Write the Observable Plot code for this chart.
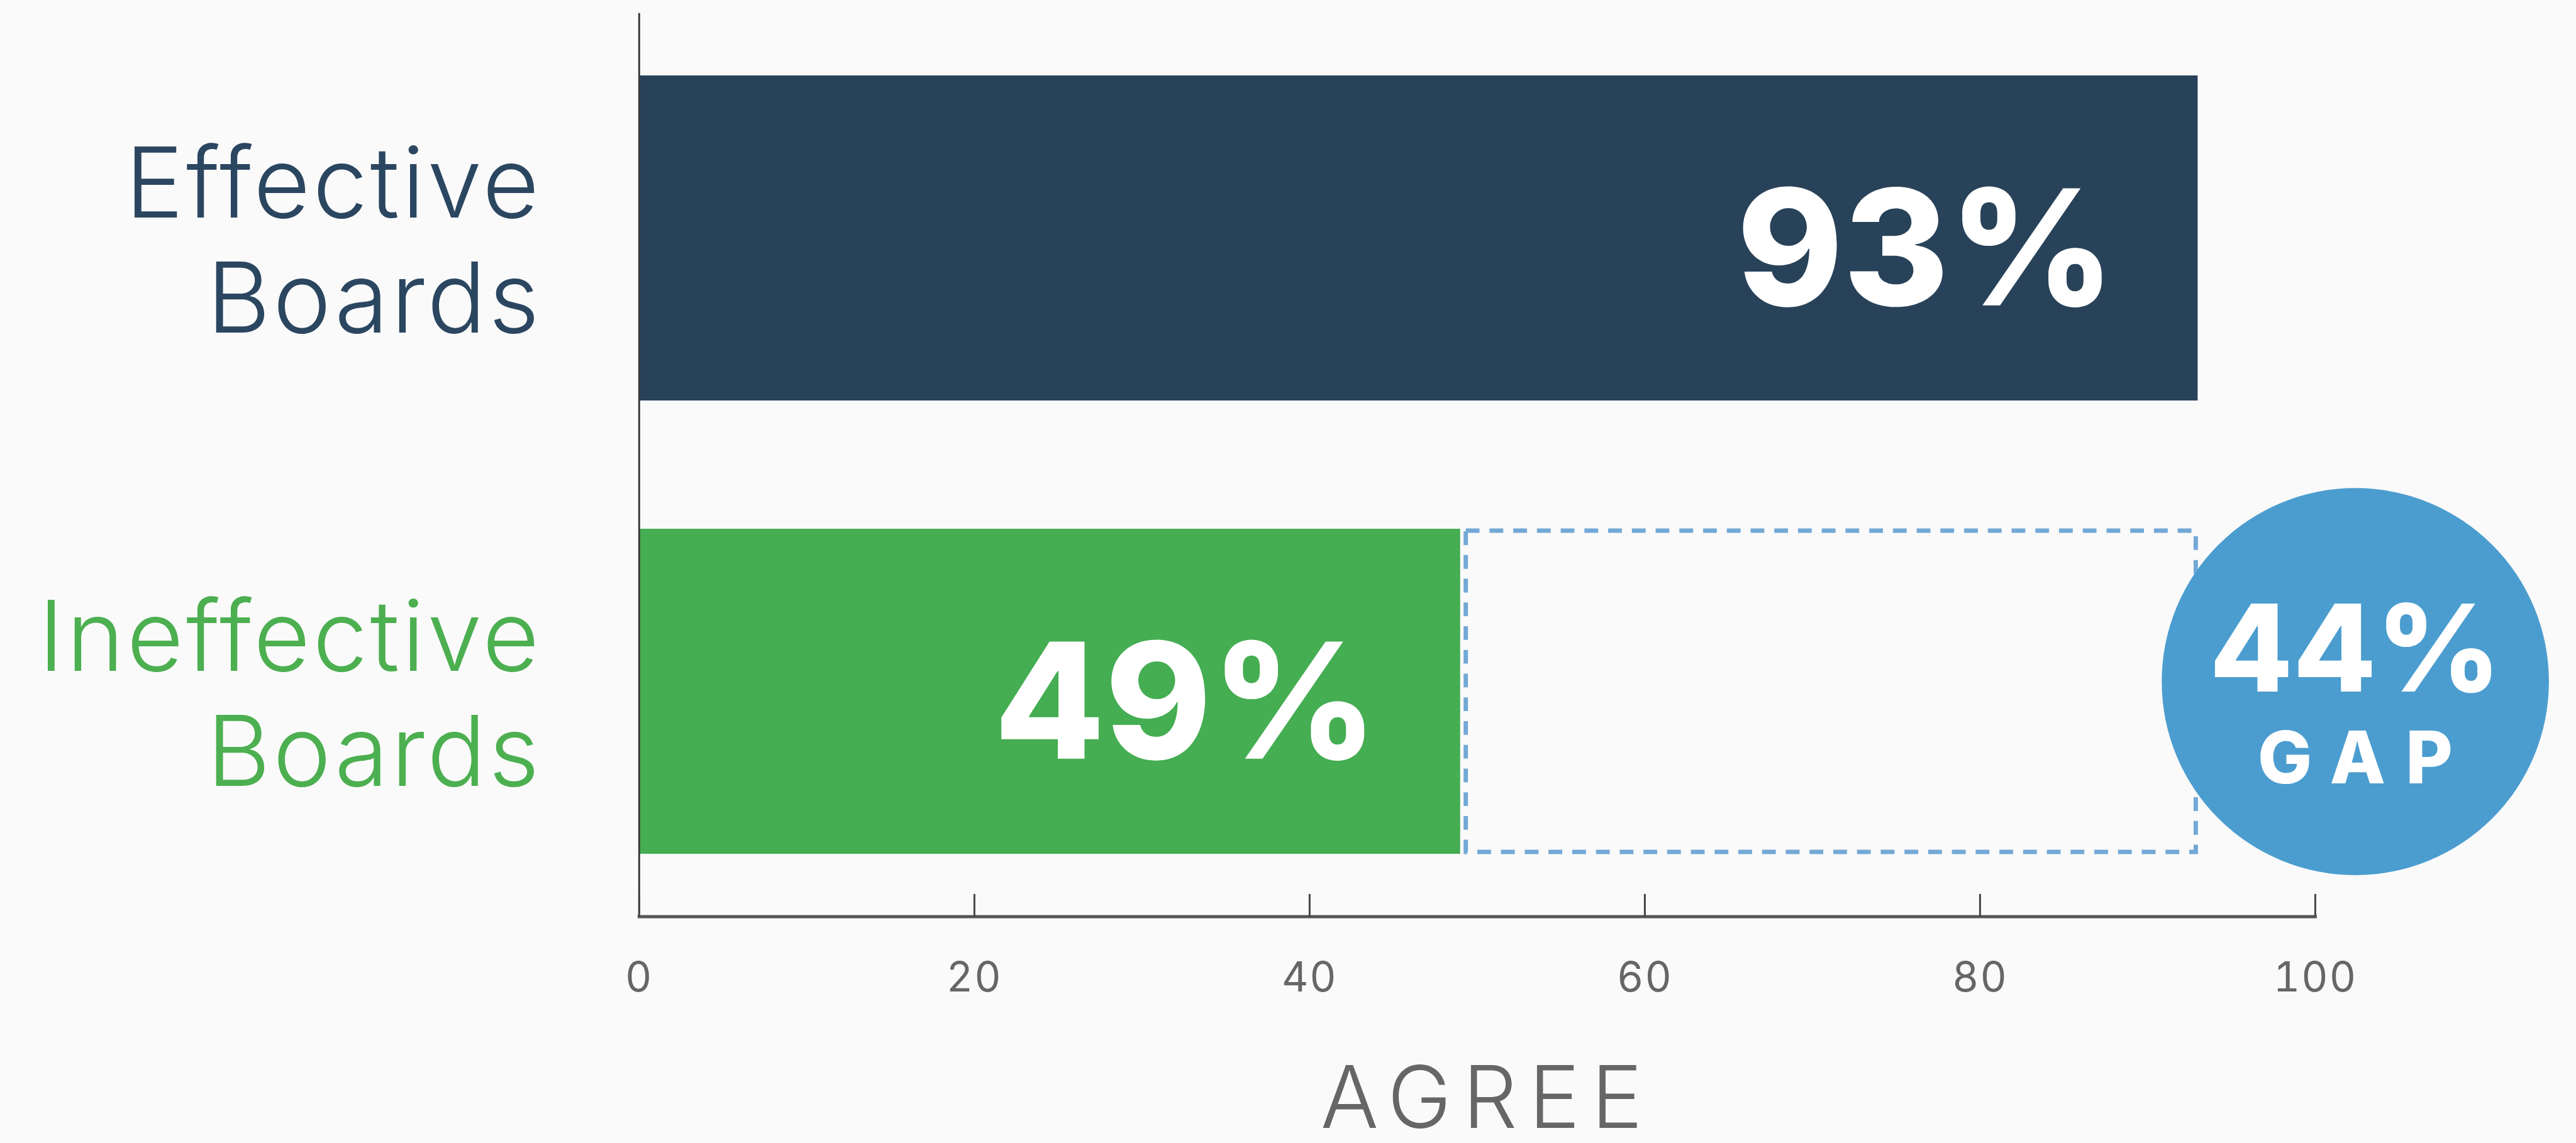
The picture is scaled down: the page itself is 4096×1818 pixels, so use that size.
<!DOCTYPE html>
<html><head><meta charset="utf-8">
<script src="https://cdn.jsdelivr.net/npm/d3@7"></script>
<script src="https://cdn.jsdelivr.net/npm/@observablehq/plot@0.6"></script>
<style>
html,body{margin:0;padding:0;background:#fafafa;overflow:hidden}
#chart svg{display:block}
#chart svg text{font-variant-ligatures:none}
#chart g[aria-description="ylabels"] text{letter-spacing:4px}
#chart g[aria-description="gapword"] text{letter-spacing:32px}
#chart g[aria-description="xtitle"] text{letter-spacing:18px}
#chart g[aria-description="xticks"] text{letter-spacing:2px}
</style></head><body><div id="chart"></div>
<script>
const categories = ["Effective Boards", "Ineffective Boards"];
const categoryLines = ["Effective\nBoards", "Ineffective\nBoards"];
const agreeValues = [93, 49];
const barColors = ["#284259", "#45ad52"];
const labelColors = ["#2b4660", "#4caf50"];
const gapValue = 44;
const gapLines = ["44%", "GAP"];
const xTicks = [0, 20, 40, 60, 80, 100];
const xTitle = "AGREE";

const s = 0.993;
const rows = categories.map((c, i) => ({category: c, label: categoryLines[i], value: agreeValues[i], bar: barColors[i], text: labelColors[i]}));
const gapRow = {category: categories[1], x1: agreeValues[1], x2: agreeValues[0], gap: gapValue};
const F = "Inter, sans-serif";

const chart = Plot.plot({
  width: 4096, height: 1818,
  marginLeft: 1023 * s, marginRight: 418 * s, marginTop: 21 * s, marginBottom: 363 * s,
  style: {background: "#fafafa", overflow: "visible", fontFamily: F},
  x: {domain: [0, 100]},
  y: {domain: categories, paddingInner: 0.2834, paddingOuter: 0.1376, axis: null},
  color: {type: "identity"},
  marks: [
    Plot.barX(rows, {x: "value", y: "category", fill: "bar"}),
    Plot.barX([gapRow], {x1: "x1", x2: "x2", y: "category", fill: "none", stroke: "#72a8d6", strokeWidth: 7 * s, strokeDasharray: `${22 * s},${16 * s}`, insetLeft: 9 * s, insetRight: 3 * s, insetTop: 3 * s, insetBottom: 3 * s}),
    Plot.ruleX([0], {stroke: "#3a3a3a", strokeWidth: 3 * s}),
    Plot.frame({anchor: "bottom", stroke: "#555", strokeWidth: 5 * s}),
    Plot.axisX(xTicks, {anchor: "bottom", tickSize: -36 * s, tickPadding: 109 * s, stroke: "#444", strokeWidth: 3 * s, fill: "#666", fontSize: 66 * s, fontWeight: 400, fontFamily: F, label: null, ariaDescription: "xticks"}),
    Plot.text([xTitle], {frameAnchor: "bottom", text: d => d, dy: 240 * s, dx: 16 * s, lineAnchor: "top", fill: "#666", fontSize: 138 * s, fontWeight: 300, fontFamily: F, ariaDescription: "xtitle"}),
    Plot.text(rows, {frameAnchor: "left", y: "category", text: "label", fill: "text", textAnchor: "end", dx: -156 * s, lineHeight: 1.17, fontSize: 157 * s, fontWeight: 350, fontFamily: F, ariaDescription: "ylabels"}),
    Plot.text(rows, {x: "value", y: "category", text: d => d.value + "%", textAnchor: "end", dx: -133 * s, dy: 25 * s, fill: "white", fontSize: 258 * s, fontWeight: 800, fontFamily: F, ariaDescription: "values"}),
    Plot.dot([gapRow], {x: "x2", y: "category", r: 310 * s, fill: "#4b9dcf", stroke: "none", dx: 252 * s, dy: -16 * s}),
    Plot.text([gapRow], {x: "x2", y: "category", text: () => gapLines[0], dx: 252 * s, dy: -62 * s, fill: "white", fontSize: 194 * s, fontWeight: 800, fontFamily: F}),
    Plot.text([gapRow], {x: "x2", y: "category", text: () => gapLines[1], dx: 268 * s, dy: 110 * s, fill: "white", fontSize: 116 * s, fontWeight: 800, fontFamily: F, ariaDescription: "gapword"})
  ]
});
document.getElementById("chart").appendChild(chart);
</script></body></html>
